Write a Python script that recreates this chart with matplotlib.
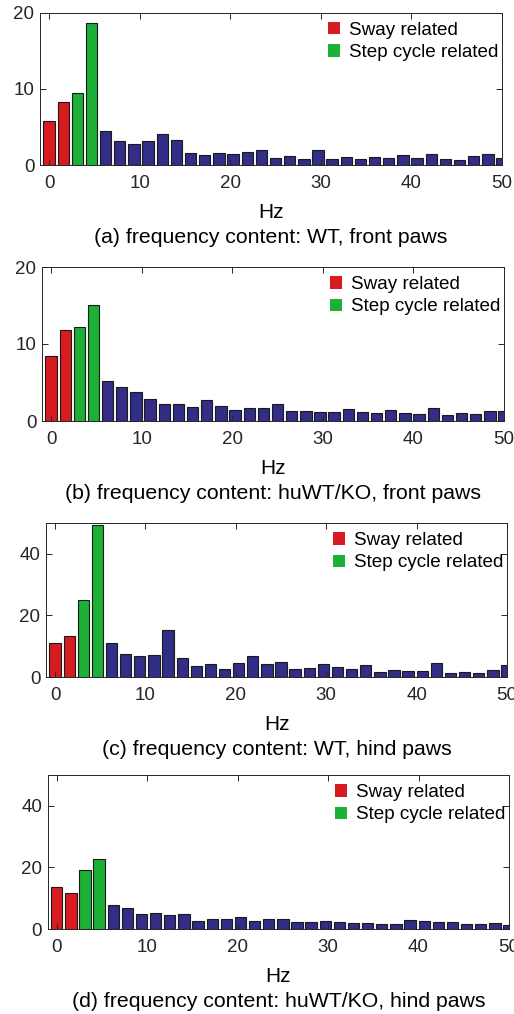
import numpy as np
import matplotlib.pyplot as plt
from matplotlib.patches import Patch

plt.rcParams['font.family'] = ['Liberation Sans', 'DejaVu Sans']

# spectrum bins, 1.5625 Hz apart, 0..50 Hz
freqs = np.arange(33) * 1.5625

wt_front = [5.8, 8.3, 9.5, 18.6, 4.4, 3.2, 2.8, 3.2, 4.1, 3.3, 1.6, 1.3, 1.6, 1.5, 1.7,
            1.96, 0.87, 1.17, 0.78, 1.91, 0.74, 1.04, 0.83, 1.0, 0.91, 1.3, 0.96, 1.43,
            0.78, 0.7, 1.17, 1.39, 0.96]
ko_front = [8.46, 11.76, 12.19, 15.1, 5.25, 4.38, 3.77, 2.82, 2.21, 2.17, 1.82, 2.78, 1.95,
            1.43, 1.69, 1.69, 2.26, 1.26, 1.26, 1.17, 1.21, 1.52, 1.13, 1.04, 1.39, 1.08,
            0.87, 1.69, 0.82, 1.0, 0.91, 1.3, 1.3]
wt_hind = [10.95, 13.4, 25.1, 49.3, 11.2, 7.5, 6.9, 7.15, 15.3, 6.3, 3.7, 4.2, 2.7, 4.4,
           6.9, 4.34, 4.88, 2.71, 2.82, 4.34, 3.36, 2.49, 4.01, 1.73, 2.28, 1.84, 1.84,
           4.44, 1.41, 1.63, 1.3, 2.17, 3.9]
ko_hind = [13.7, 11.7, 19.1, 22.6, 7.7, 6.7, 4.86, 5.08, 4.54, 4.86, 2.59, 3.24, 3.14, 3.89,
           2.59, 3.14, 3.35, 2.16, 2.27, 2.59, 2.38, 2.05, 1.84, 1.73, 1.73, 2.92, 2.59,
           2.16, 2.16, 1.62, 1.51, 2.05, 1.4]

captions = ["(a) frequency content: WT, front paws",
            "(b) frequency content: huWT/KO, front paws",
            "(c) frequency content: WT, hind paws",
            "(d) frequency content: huWT/KO, hind paws"]
series = [wt_front, ko_front, wt_hind, ko_hind]
ylims = [20, 20, 50, 50]
yticks = [[0, 10, 20], [0, 10, 20], [0, 20, 40], [0, 20, 40]]

RED = '#d81b20'
GREEN = '#1cb036'
NAVY = '#322d86'
INK = '#262626'

W, H = 514, 1014
# panel boxes in pixels: left, right, top, bottom
boxes = [(40, 502, 12.7, 165), (42, 504, 267, 421),
         (46, 507, 523, 677), (47.7, 509, 775, 929)]

fig = plt.figure(figsize=(W / 100, H / 100), dpi=100)

for vals, cap, ytop, yt, (l, r, t, b) in zip(series, captions, ylims, yticks, boxes):
    ax = fig.add_axes([l / W, 1 - b / H, (r - l) / W, (b - t) / H])
    colors = [RED, RED, GREEN, GREEN] + [NAVY] * (len(vals) - 4)
    ax.bar(freqs, vals, width=1.5625 * 0.8, color=colors, edgecolor='#1a1a1a',
           linewidth=0.8)
    ax.set_xlim(-1.0, 50)
    ax.set_ylim(0, ytop)
    ax.set_xticks(range(0, 51, 10))
    ax.set_yticks(yt)
    ax.tick_params(direction='in', top=True, right=True, length=4, width=0.7,
                   colors=INK, labelsize=13.5, pad=7)
    ax.tick_params(axis='y', pad=4)
    for s in ax.spines.values():
        s.set_color(INK)
        s.set_linewidth(0.7)
    ax.annotate('Hz', xy=(0.5, 0), xycoords='axes fraction', xytext=(0, -34.5),
                textcoords='offset points', ha='center', va='center',
                fontsize=15, color='black')
    ax.annotate(cap, xy=(0.5, 0), xycoords='axes fraction', xytext=(0, -52),
                textcoords='offset points', ha='center', va='center',
                fontsize=15.3, color='black')
    handles = [Patch(facecolor=RED, edgecolor='none', label='Sway related'),
               Patch(facecolor=GREEN, edgecolor='none', label='Step cycle related')]
    ax.legend(handles=handles, loc='upper right', bbox_to_anchor=(1.0, 0.965),
              frameon=False, fontsize=13.6, handlelength=0.65, handleheight=0.65,
              handletextpad=0.45, labelspacing=0.28, borderaxespad=0.05,
              borderpad=0.15)

fig.savefig('out.png', dpi=100)
